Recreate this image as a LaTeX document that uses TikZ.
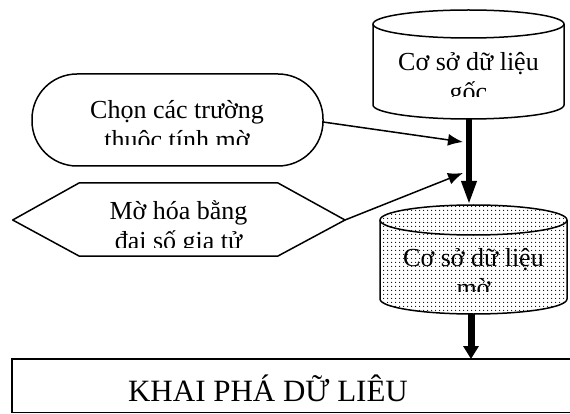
\documentclass[tikz,border=0pt]{standalone}
\usepackage{fontspec}
\setmainfont{Liberation Serif}
\usetikzlibrary{arrows.meta,patterns.meta}

\tikzset{
  shape line/.style={line width=1.5pt, line join=round},
  label text/.style={font=\fontsize{26}{30}\selectfont, anchor=base, inner sep=0pt},
  thin arrow/.style={line width=1.5pt, -{Latex[length=15pt,width=12pt]}},
  flow arrow/.style={line width=6pt, -{Triangle[length=24pt,width=14pt]}, shorten >=0pt},
  short flow arrow/.style={line width=7pt, -{Triangle[length=13pt,width=15pt]}},
  dotfill/.style={pattern={Dots[distance=4pt,radius=0.75pt]}}
}

\begin{document}
\begin{tikzpicture}[x=1pt,y=-1pt]
  \clip (0,0) rectangle (570,414);
  \fill[white] (0,0) rectangle (570,414);

  % source database (top cylinder)
  \fill[white] (373,24) -- (373,105)
      arc[start angle=180,end angle=360,x radius=95.5pt,y radius=14pt]
      -- (564,24) arc[start angle=0,end angle=180,x radius=95.5pt,y radius=14pt] -- cycle;
  \draw[shape line] (373,24) -- (373,105)
      arc[start angle=180,end angle=360,x radius=95.5pt,y radius=14pt] -- (564,24);
  \draw[shape line] (468.5,24) ellipse[x radius=95.5pt,y radius=14pt];
  \coordinate (srcbot) at (469,119);
  \begin{scope}
    \clip (373,40) rectangle (564,97);
    \node[label text] (srctxt) at (468.5,71) {Cơ sở dữ liệu};
    \node[label text] (srctxt2) at (468.5,101) {gốc};
  \end{scope}

  % fuzzy database (dotted cylinder)
  \path[dotfill] (380,220) -- (380,299)
      arc[start angle=180,end angle=360,x radius=93.5pt,y radius=15pt]
      -- (567,220) arc[start angle=0,end angle=180,x radius=93.5pt,y radius=15pt] -- cycle;
  \draw[shape line] (380,220) -- (380,299)
      arc[start angle=180,end angle=360,x radius=93.5pt,y radius=15pt] -- (567,220);
  \draw[shape line] (473.5,220) ellipse[x radius=93.5pt,y radius=15pt];
  \coordinate (fuzzytop) at (469,205);
  \coordinate (fuzzybot) at (471,314);
  \begin{scope}
    \clip (380,236) rectangle (567,291);
    \node[label text] (fuzzytxt) at (473.5,266) {Cơ sở dữ liệu};
    \node[label text] (fuzzytxt2) at (473.5,296) {mờ};
  \end{scope}

  % choose fuzzy attributes (rounded box)
  \draw[shape line, rounded corners=45pt] (32,74) rectangle (323,166);
  \coordinate (chooseout) at (323,122);
  \begin{scope}
    \clip (32,86) rectangle (323,145);
    \node[label text] (choosetxt) at (177,119) {Chọn các trường};
    \node[label text] (choosetxt2) at (177,149) {thuộc tính mờ};
  \end{scope}

  % fuzzification by hedge algebra (hexagon)
  \draw[shape line] (12.7,220) -- (79,183) -- (278,183) -- (345,220)
      -- (278,256) -- (79,256) -- cycle;
  \coordinate (hexout) at (345,220);
  \begin{scope}
    \clip (12,190) rectangle (345,247);
    \node[label text] (hextxt) at (178.5,219) {Mờ hóa bằng};
    \node[label text] (hextxt2) at (178.5,249) {đại số gia tử};
  \end{scope}

  % data mining (bottom box)
  \draw[line width=1.8pt] (12,359) rectangle (600,412.5);
  \node[font=\fontsize{31}{35}\selectfont, anchor=base, inner sep=0pt] (mining)
      at (268,401) {KHAI PHÁ DỮ LIÊU};
  \coordinate (miningtop) at (471,359);

  % connectors
  \coordinate (tipA) at (463,142);
  \coordinate (tipB) at (463,173);
  \draw[flow arrow] (srcbot) -- (fuzzytop);
  \draw[short flow arrow] (fuzzybot) -- (miningtop);
  \draw[thin arrow] (chooseout) -- (tipA);
  \draw[thin arrow] (hexout) -- (tipB);
\end{tikzpicture}
\end{document}
